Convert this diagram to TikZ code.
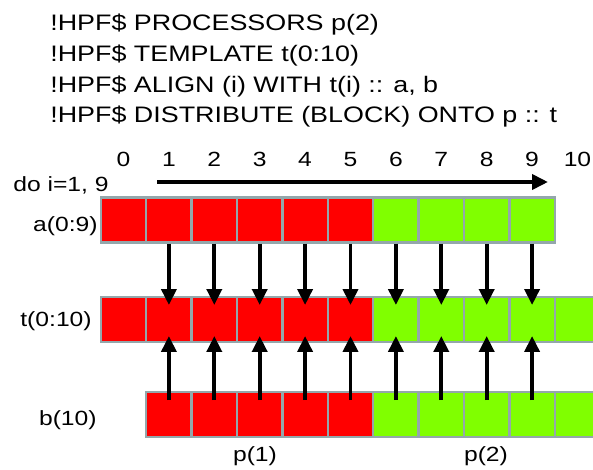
\documentclass[tikz,border=0pt]{standalone}
\usepackage{fontspec}
\setmainfont[FakeStretch=1.2]{Liberation Sans}
\usetikzlibrary{arrows.meta}
\definecolor{blockrot}{HTML}{FF0000}
\definecolor{blockgruen}{HTML}{80FF00}
\definecolor{zellrand}{HTML}{94A7AB}

\begin{document}
\begin{tikzpicture}[x=0.02cm, y=-0.02cm,
    zelle/.style={draw=zellrand, line width=0.05cm, minimum width=0.908cm,
        minimum height=0.9cm, inner sep=0pt},
    pfeil/.style={line width=0.075cm, -{Triangle[length=0.32cm, width=0.3cm]}},
    beschrift/.style={inner sep=0pt, font=\fontsize{11.7}{14}\selectfont},
    kopf/.style={inner sep=0pt, anchor=base west, font=\fontsize{12.75}{15}\selectfont}]

\useasboundingbox (0,0) rectangle (593,470);

% HPF-Direktiven
\foreach \txt [count=\k] in {{!HPF\$ PROCESSORS p(2)}, {!HPF\$ TEMPLATE t(0:10)},
        {!HPF\$ ALIGN (i) WITH t(i) :: a, b}, {!HPF\$ DISTRIBUTE (BLOCK) ONTO p :: t}} {
    \node[kopf] (hpf\k) at (50, 0.5+30.5*\k) {\txt};
}

% Indizes ueber dem Template
\foreach \k in {0,...,10} {
    \node[beschrift, anchor=base] (idx\k) at (123.5+45.4*\k, 166.5) {\k};
}
\coordinate (schleifeA) at (157,182);
\coordinate (schleifeE) at (548,182);
\draw[pfeil] (schleifeA) -- (schleifeE);
\node[beschrift, anchor=base west] (doloop) at (13,191.5) {do i=1, 9};

% Felder: Block 0..5 auf p(1), Rest auf p(2)
\foreach \k in {0,...,9} {
    \ifnum\k<6 \def\farbe{blockrot}\else\def\farbe{blockgruen}\fi
    \node[zelle, fill=\farbe] (a\k) at (123.5+45.4*\k, 220) {};
}
\foreach \k in {0,...,10} {
    \ifnum\k<6 \def\farbe{blockrot}\else\def\farbe{blockgruen}\fi
    \node[zelle, fill=\farbe] (t\k) at (123.5+45.4*\k, 319.5) {};
}
\foreach \k in {1,...,10} {
    \ifnum\k<6 \def\farbe{blockrot}\else\def\farbe{blockgruen}\fi
    \node[zelle, fill=\farbe] (b\k) at (123.5+45.4*\k, 414.5) {};
}

\node[beschrift, anchor=base east] (alab) at (98,231.5) {a(0:9)};
\node[beschrift, anchor=base east] (tlab) at (92,326.7) {t(0:10)};
\node[beschrift, anchor=base east] (blab) at (97,425) {b(10)};

% Ausrichtung a(i), b(i) -> t(i)
\foreach \i in {1,...,9} {
    \draw[pfeil] (a\i.south) -- ([yshift=0.29cm]t\i.center);
    \draw[pfeil] ([yshift=0.29cm]b\i.center) -- ([yshift=-0.33cm]t\i.center);
}

\node[beschrift, anchor=base] (p1) at (255,461.5) {p(1)};
\node[beschrift, anchor=base] (p2) at (486,461) {p(2)};
\end{tikzpicture}
\end{document}
